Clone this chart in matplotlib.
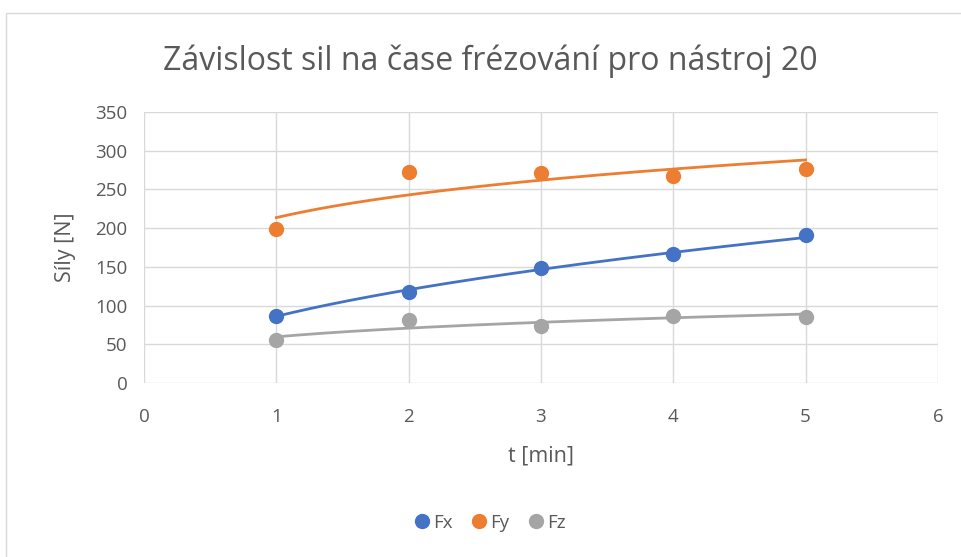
import numpy as np
import matplotlib.pyplot as plt
from matplotlib.patches import Rectangle

plt.rcParams['font.family'] = ['Open Sans', 'DejaVu Sans']

# measured forces vs. milling time
t = [1, 2, 3, 4, 5]
fx = [87, 118, 148, 166, 191]
fy = [199, 272, 271, 267, 276]
fz = [56, 81, 74, 87, 85]

names = ['Fx', 'Fy', 'Fz']
colors = ['#4472C4', '#ED7D31', '#A5A5A5']
txt = '#595959'

fig = plt.figure(figsize=(9.61, 5.57), dpi=100)
ax = fig.add_axes([0.1498, 0.3124, 0.8262, 0.4866])

# chart frame
fig.patches.append(Rectangle((0.006, -0.05), 1.1, 1.026, transform=fig.transFigure,
                             fill=False, edgecolor='#d9d9d9', linewidth=1.0))

tt = np.linspace(1, 5, 200)
for vals, name, c in zip([fx, fy, fz], names, colors):
    # power trendline y = a*t^b
    b, lna = np.polyfit(np.log(t), np.log(vals), 1)
    ax.plot(tt, np.exp(lna) * tt ** b, color=c, lw=2.0, zorder=3)
    ax.plot(t, vals, 'o', color=c, ms=10, label=name, zorder=4)

ax.set_xlim(0, 6)
ax.set_ylim(0, 350)
ax.set_xticks(range(0, 7))
ax.set_yticks(range(0, 351, 50))
ax.grid(True, color='#d9d9d9', lw=1.0)
ax.set_axisbelow(True)
for s in ax.spines.values():
    s.set_visible(False)
ax.tick_params(length=0, labelsize=13.5, colors=txt)
ax.tick_params(axis='x', pad=18)
ax.tick_params(axis='y', pad=12)

ax.set_xlabel('t [min]', fontsize=15.5, color=txt, labelpad=14)
ax.set_ylabel('Síly [N]', fontsize=15.5, color=txt, labelpad=14)
fig.text(0.51, 0.89, 'Závislost sil na čase frézování pro nástroj 20',
         ha='center', va='center', fontsize=23, color=txt)

fig.legend(loc='center', bbox_to_anchor=(0.51, 0.061), ncol=3, frameon=False,
           fontsize=13.5, handlelength=0.8, handletextpad=0.2, columnspacing=1.0,
           labelcolor=txt)

fig.savefig('out.png', dpi=100)
